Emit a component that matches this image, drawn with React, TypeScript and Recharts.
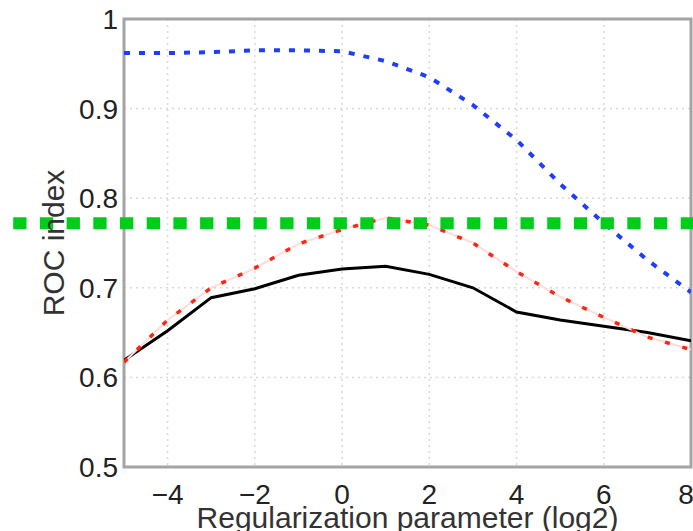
import { LineChart, Line, XAxis, YAxis, CartesianGrid, ReferenceLine, ReferenceArea } from 'recharts'

const xValues = [-5, -4, -3, -2, -1, 0, 1, 2, 3, 4, 5, 6, 7, 8]
const blackSeries = [0.619, 0.652, 0.689, 0.699, 0.714, 0.721, 0.724, 0.715, 0.7, 0.673, 0.664, 0.657, 0.65, 0.641]
const redSeries = [0.617, 0.664, 0.7, 0.722, 0.749, 0.765, 0.778, 0.77, 0.75, 0.718, 0.69, 0.667, 0.645, 0.631]
const blueSeries = [0.962, 0.962, 0.963, 0.965, 0.965, 0.964, 0.953, 0.935, 0.904, 0.865, 0.816, 0.772, 0.731, 0.695]
const baselineLevel = 0.772
const baselineSpan = [-7.54, 9]
const xTicks = [-4, -2, 0, 2, 4, 6, 8]
const yTicks = [0.5, 0.6, 0.7, 0.8, 0.9, 1]

const data = xValues.map((x, i) => ({
  x,
  black: blackSeries[i],
  red: redSeries[i],
  blue: blueSeries[i],
}))

const font = '"Liberation Sans", Arial, sans-serif'
const fmtX = (v: number) => (v < 0 ? '\u2212' + Math.abs(v) : String(v))

export default function App() {
  return (
    <div style={{ position: 'absolute', left: 0, top: 0, background: 'white' }}>
      <LineChart
        width={693}
        height={531}
        data={data}
        margin={{ top: 19, right: 2, bottom: 0, left: 0 }}
        style={{ fontFamily: font }}
      >
        <CartesianGrid stroke="#d8d8d8" strokeDasharray="2 4" strokeWidth={1.5} />
        <XAxis
          dataKey="x"
          type="number"
          domain={[-5, 8]}
          ticks={xTicks}
          tickFormatter={fmtX}
          height={64}
          axisLine={false}
          tickLine={false}
          tickSize={0}
          tickMargin={17}
          tick={{ fill: '#222', fontSize: 28, fontFamily: font }}
          allowDataOverflow
          label={{ value: 'Regularization parameter (log2)', position: 'insideBottom', offset: 3, fill: '#333', fontSize: 30, fontFamily: font }}
        />
        <YAxis
          type="number"
          domain={[0.5, 1]}
          ticks={yTicks}
          width={124}
          axisLine={false}
          tickLine={false}
          tickSize={0}
          tickMargin={6}
          tick={{ fill: '#222', fontSize: 28, fontFamily: font }}
          allowDataOverflow
          label={{ value: 'ROC index', angle: -90, position: 'center', dx: -9, fill: '#333', fontSize: 30, fontFamily: font }}
        />
        <ReferenceArea x1={-5} x2={8} y1={0.5} y2={1} fill="none" stroke="#a4a4a4" strokeWidth={3} />
        <Line type="linear" dataKey="black" stroke="#000" strokeWidth={3} dot={false} isAnimationActive={false} />
        <Line type="linear" dataKey="red" stroke="#ffdcd8" strokeWidth={2} dot={false} isAnimationActive={false} />
        <Line type="linear" dataKey="red" stroke="#ff2414" strokeWidth={3.5} strokeDasharray="5 13" dot={false} isAnimationActive={false} />
        <Line type="linear" dataKey="blue" stroke="#1f3cff" strokeWidth={4} strokeDasharray="6 9" dot={false} isAnimationActive={false} />
        <ReferenceLine
          segment={[{ x: baselineSpan[0], y: baselineLevel }, { x: baselineSpan[1], y: baselineLevel }]}
          ifOverflow="visible"
          stroke="#00cc1c"
          strokeWidth={12}
          strokeDasharray="13.3 13.4"
        />
      </LineChart>
    </div>
  )
}
